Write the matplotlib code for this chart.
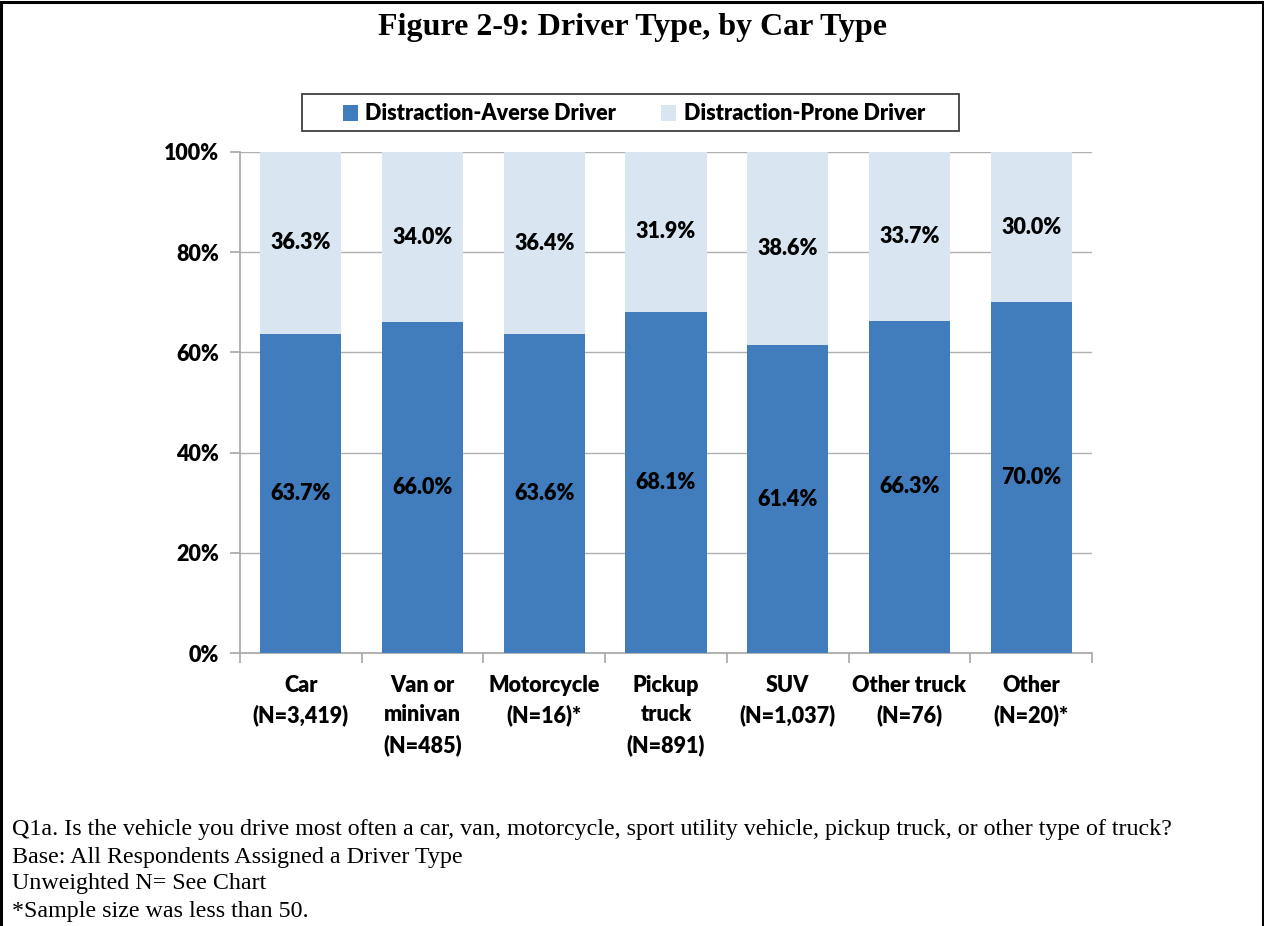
import matplotlib
matplotlib.use("Agg")
import matplotlib.pyplot as plt
from matplotlib.patches import Rectangle
import numpy as np

categories = ["Car\n(N=3,419)", "Van or\nminivan\n(N=485)", "Motorcycle\n(N=16)*",
              "Pickup\ntruck\n(N=891)", "SUV\n(N=1,037)", "Other truck\n(N=76)", "Other\n(N=20)*"]
averse = [63.7, 66.0, 63.6, 68.1, 61.4, 66.3, 70.0]
prone = [36.3, 34.0, 36.4, 31.9, 38.6, 33.7, 30.0]
series_names = ["Distraction-Averse Driver", "Distraction-Prone Driver"]
yticks = [0, 20, 40, 60, 80, 100]
title = "Figure 2-9: Driver Type, by Car Type"
footnotes = [
    "Q1a. Is the vehicle you drive most often a car, van, motorcycle, sport utility vehicle, pickup truck, or other type of truck?",
    "Base: All Respondents Assigned a Driver Type",
    "Unweighted N= See Chart",
    "*Sample size was less than 50.",
]

C_AV = "#417dbd"
C_PR = "#d9e5f1"
SANS = ["Lato", "DejaVu Sans"]
SERIF = ["Liberation Serif", "DejaVu Serif"]
FW = "heavy"
FS = 15.5

W, H = 1264, 926
fig = plt.figure(figsize=(W / 100, H / 100), dpi=100)

# figure frame
fig.patches.append(Rectangle((1 / W, -0.01), 1 - 2 / W, 1.01 - 1.5 / H, transform=fig.transFigure,
                             fill=False, edgecolor="black", linewidth=2.2))

ax = fig.add_axes([240 / W, 1 - 653 / H, (1092 - 240) / W, (653 - 152) / H])
x = np.arange(len(categories))
bw = 0.667
b1 = ax.bar(x, averse, bw, color=C_AV, label=series_names[0], zorder=3)
b2 = ax.bar(x, prone, bw, bottom=averse, color=C_PR, label=series_names[1], zorder=3)
for i in range(len(categories)):
    ax.text(x[i], averse[i] / 2, f"{averse[i]:.1f}%", ha="center", va="center",
            fontsize=FS, fontweight=FW, family=SANS, zorder=4)
    ax.text(x[i], averse[i] + prone[i] / 2, f"{prone[i]:.1f}%", ha="center", va="center",
            fontsize=FS, fontweight=FW, family=SANS, zorder=4)

ax.set_xlim(-0.5, len(categories) - 0.5)
ax.set_ylim(0, 100)
ax.set_yticks(yticks)
ax.set_yticklabels([f"{v}%" for v in yticks], fontsize=FS, fontweight=FW, family=SANS)
ax.yaxis.grid(True, color="#b0b0b0", linewidth=1, zorder=0)
for s in ["top", "right"]:
    ax.spines[s].set_visible(False)
for s in ["left", "bottom"]:
    ax.spines[s].set_color("#a6a6a6")
    ax.spines[s].set_linewidth(1.2)
ax.tick_params(axis="y", length=7, color="#a6a6a6", width=1.2, pad=8)
ax.set_xticks(x)
ax.set_xticklabels(categories, fontsize=FS, fontweight=FW, family=SANS, linespacing=1.5, va="top")
ax.tick_params(axis="x", length=0, pad=15.5)
ax.set_xticks(np.arange(len(categories) + 1) - 0.5, minor=True)
ax.tick_params(axis="x", which="minor", length=7, color="#a6a6a6", width=1.2)

fig.text(0.5, 1 - 28 / H, title, ha="center", va="center", fontsize=23, fontweight="bold", family=SERIF)

# legend box
fig.patches.append(Rectangle((302 / W, 1 - 131 / H), (959 - 302) / W, (131 - 94) / H,
                             transform=fig.transFigure, fill=False, edgecolor="#404040", linewidth=1.3))
leg = fig.legend(handles=[b1, b2], loc="center", bbox_to_anchor=(634 / W, 1 - 114 / H), ncol=2,
                 frameon=False, handlelength=0.7, handleheight=0.7,
                 columnspacing=2.1, handletextpad=0.33, borderpad=0.2,
                 prop={"family": SANS, "weight": FW, "size": FS})

for i, line in enumerate(footnotes):
    fig.text(12 / W, 1 - (830 + 27 * i) / H, line, ha="left", va="center", fontsize=17.3, family=SERIF)

fig.savefig("out.png", dpi=100)
